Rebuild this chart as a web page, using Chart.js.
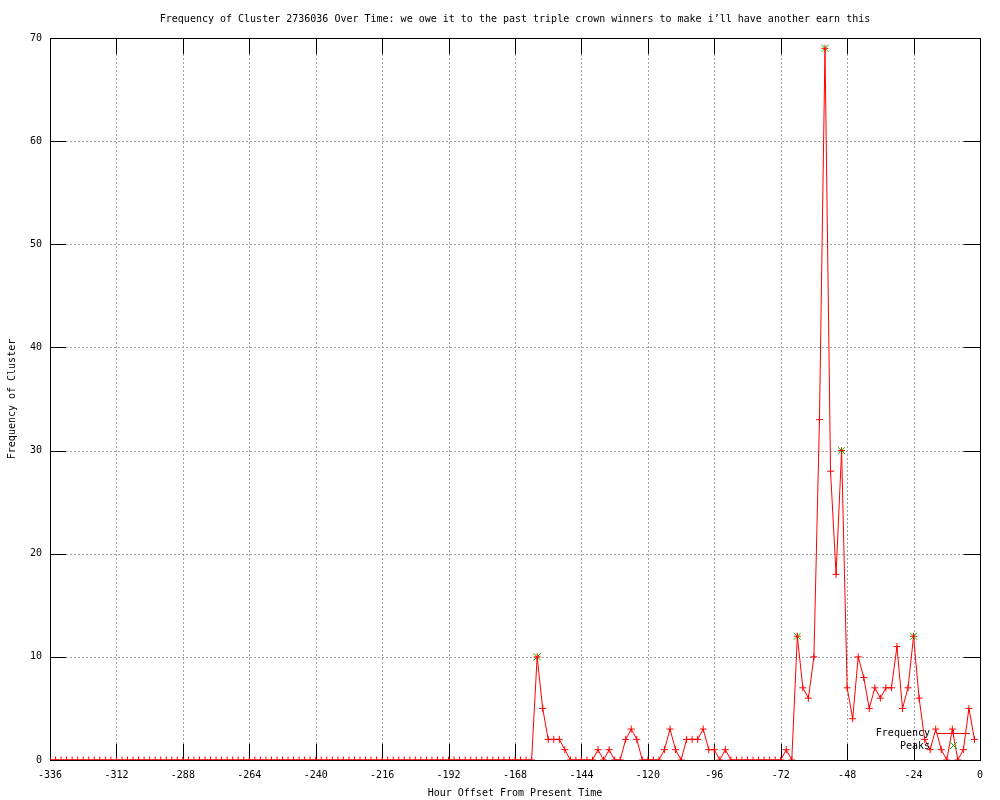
<!DOCTYPE html>
<html><head><meta charset="utf-8">
<script src="https://cdn.jsdelivr.net/npm/chart.js@4.4.1/dist/chart.umd.min.js"></script>
<style>html,body{margin:0;padding:0;background:#fff}#wrap{width:1000px;height:800px}</style>
</head><body><div id="wrap"><canvas id="c" width="1000" height="800"></canvas></div>
<script>
const titleText = "Frequency of Cluster 2736036 Over Time: we owe it to the past triple crown winners to make i\u2019ll have another earn this";
const xAxisTitle = "Hour Offset From Present Time";
const yAxisTitle = "Frequency of Cluster";
const seriesName = "Frequency";
const peaksName = "Peaks";

const hours = [
-336,-334,-332,-330,-328,-326,-324,-322,-320,-318,-316,-314,-312,-310,-308,-306,-304,-302,-300,-298,
-296,-294,-292,-290,-288,-286,-284,-282,-280,-278,-276,-274,-272,-270,-268,-266,-264,-262,-260,-258,
-256,-254,-252,-250,-248,-246,-244,-242,-240,-238,-236,-234,-232,-230,-228,-226,-224,-222,-220,-218,
-216,-214,-212,-210,-208,-206,-204,-202,-200,-198,-196,-194,-192,-190,-188,-186,-184,-182,-180,-178,
-176,-174,-172,-170,-168,-166,-164,-162,-160,-158,-156,-154,-152,-150,-148,-146,-144,-142,-140,-138,
-136,-134,-132,-130,-128,-126,-124,-122,-120,-118,-116,-114,-112,-110,-108,-106,-104,-102,-100,-98,
-96,-94,-92,-90,-88,-86,-84,-82,-80,-78,-76,-74,-72,-70,-68,-66,-64,-62,-60,-58,
-56,-54,-52,-50,-48,-46,-44,-42,-40,-38,-36,-34,-32,-30,-28,-26,-24,-22,-20,-18,
-16,-14,-12,-10,-8,-6,-4,-2
];
const frequency = [
0,0,0,0,0,0,0,0,0,0,0,0,0,0,0,0,0,0,0,0,
0,0,0,0,0,0,0,0,0,0,0,0,0,0,0,0,0,0,0,0,
0,0,0,0,0,0,0,0,0,0,0,0,0,0,0,0,0,0,0,0,
0,0,0,0,0,0,0,0,0,0,0,0,0,0,0,0,0,0,0,0,
0,0,0,0,0,0,0,0,10,5,2,2,2,1,0,0,0,0,0,1,
0,1,0,0,2,3,2,0,0,0,0,1,3,1,0,2,2,2,3,1,
1,0,1,0,0,0,0,0,0,0,0,0,0,1,0,12,7,6,10,33,
69,28,18,30,7,4,10,8,5,7,6,7,7,11,5,7,12,6,2,1,
3,1,0,3,0,1,5,2
];
const peakHours = [-160,-66,-56,-50,-24];
const peakValues = [10,12,69,30,12];
const xTickValues = [-336,-312,-288,-264,-240,-216,-192,-168,-144,-120,-96,-72,-48,-24,0];
const yTickValues = [0,10,20,30,40,50,60,70];

const FONT = "'DejaVu Sans Mono', monospace";
const RED = '#ff0000';
const GREEN = '#00c000';

const framePlugin = {
  id: 'frame',
  beforeDatasetsDraw(chart) {
    const {ctx, chartArea: a, scales: {x, y}} = chart;
    ctx.save();
    // dotted grid
    ctx.strokeStyle = '#a0a0a0';
    ctx.lineWidth = 1;
    ctx.setLineDash([2, 2]);
    xTickValues.forEach(v => {
      const px = Math.round(x.getPixelForValue(v)) + 0.5;
      if (px <= a.left + 1 || px >= a.right - 1) return;
      ctx.beginPath(); ctx.moveTo(px, a.top); ctx.lineTo(px, a.bottom); ctx.stroke();
    });
    yTickValues.forEach(v => {
      const py = Math.round(y.getPixelForValue(v)) + 0.5;
      if (py <= a.top + 1 || py >= a.bottom - 1) return;
      ctx.beginPath(); ctx.moveTo(a.left, py); ctx.lineTo(a.right, py); ctx.stroke();
    });
    ctx.setLineDash([]);
    // inward ticks
    ctx.strokeStyle = '#000';
    const TL = 16;
    xTickValues.forEach(v => {
      const px = Math.round(x.getPixelForValue(v)) + 0.5;
      ctx.beginPath(); ctx.moveTo(px, a.bottom); ctx.lineTo(px, a.bottom - TL); ctx.stroke();
      ctx.beginPath(); ctx.moveTo(px, a.top); ctx.lineTo(px, a.top + TL); ctx.stroke();
    });
    yTickValues.forEach(v => {
      const py = Math.round(y.getPixelForValue(v)) + 0.5;
      ctx.beginPath(); ctx.moveTo(a.left, py); ctx.lineTo(a.left + TL, py); ctx.stroke();
      ctx.beginPath(); ctx.moveTo(a.right, py); ctx.lineTo(a.right - TL, py); ctx.stroke();
    });
    // border
    ctx.strokeRect(Math.round(a.left) + 0.5, Math.round(a.top) + 0.5,
                   Math.round(a.right - a.left), Math.round(a.bottom - a.top));
    ctx.restore();
  },
  afterDraw(chart) {
    const {ctx, chartArea: a} = chart;
    ctx.save();
    ctx.fillStyle = '#000';
    ctx.font = '10px ' + FONT;
    ctx.textBaseline = 'middle';
    ctx.textAlign = 'center';
    ctx.fillText(titleText, (a.left + a.right) / 2, 19);
    ctx.fillText(xAxisTitle, (a.left + a.right) / 2, 793);
    ctx.save();
    ctx.translate(12, (a.top + a.bottom) / 2);
    ctx.rotate(-Math.PI / 2);
    ctx.fillText(yAxisTitle, 0, 0);
    ctx.restore();
    // legend
    ctx.textAlign = 'right';
    ctx.fillText(seriesName, 930, 733);
    ctx.fillText(peaksName, 930, 746);
    ctx.strokeStyle = RED;
    ctx.lineWidth = 1;
    ctx.beginPath(); ctx.moveTo(937, 733.5); ctx.lineTo(970, 733.5); ctx.stroke();
    ctx.beginPath(); ctx.moveTo(953.5, 730); ctx.lineTo(953.5, 737); ctx.moveTo(950, 733.5); ctx.lineTo(957, 733.5); ctx.stroke();
    ctx.strokeStyle = GREEN;
    ctx.beginPath(); ctx.moveTo(950, 742); ctx.lineTo(957, 749); ctx.moveTo(957, 742); ctx.lineTo(950, 749); ctx.stroke();
    ctx.restore();
  }
};

new Chart(document.getElementById('c'), {
  type: 'scatter',
  data: {
    datasets: [
      {
        label: seriesName,
        data: hours.map((h, i) => ({x: h, y: frequency[i]})),
        showLine: true,
        borderColor: RED,
        borderWidth: 1,
        pointStyle: 'cross',
        pointRadius: 3.5,
        pointBorderColor: RED,
        pointBorderWidth: 1,
        pointBackgroundColor: RED,
        tension: 0,
        order: 0
      },
      {
        label: peaksName,
        data: peakHours.map((h, i) => ({x: h, y: peakValues[i]})),
        showLine: false,
        pointStyle: 'crossRot',
        pointRadius: 5,
        pointBorderColor: GREEN,
        pointBorderWidth: 1,
        order: 1
      }
    ]
  },
  options: {
    responsive: false,
    animation: false,
    devicePixelRatio: 1,
    layout: {padding: {top: 38, right: 20, left: 0, bottom: 0}},
    plugins: {legend: {display: false}, tooltip: {enabled: false}, title: {display: false}},
    scales: {
      x: {
        type: 'linear', min: -336, max: 0,
        afterFit(s) { s.height = 40; },
        afterBuildTicks(s) { s.ticks = xTickValues.map(v => ({value: v})); },
        grid: {display: false, drawTicks: false},
        border: {display: false},
        ticks: {padding: 9, color: '#000', font: {family: FONT, size: 10}, maxRotation: 0, autoSkip: false,
                callback: v => String(v)}
      },
      y: {
        type: 'linear', min: 0, max: 70,
        afterFit(s) { s.width = 50; },
        afterBuildTicks(s) { s.ticks = yTickValues.map(v => ({value: v})); },
        grid: {display: false, drawTicks: false},
        border: {display: false},
        ticks: {padding: 8, color: '#000', font: {family: FONT, size: 10}, callback: v => String(v)}
      }
    }
  },
  plugins: [framePlugin]
});
</script>
</body></html>
